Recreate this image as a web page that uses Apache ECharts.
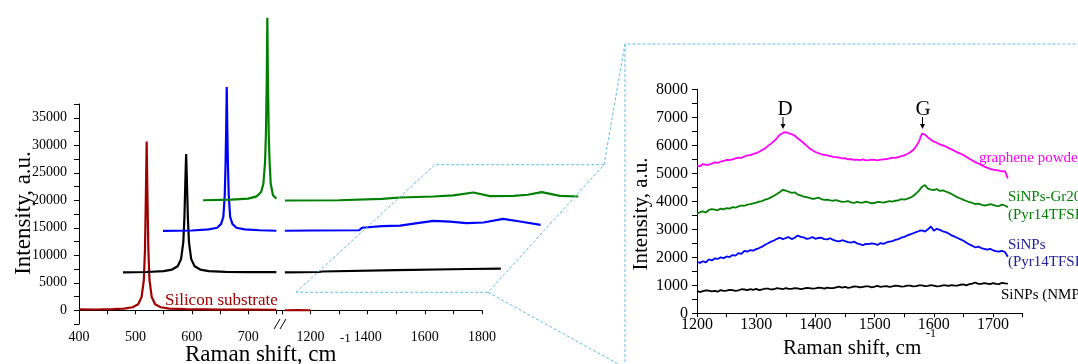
<!DOCTYPE html>
<html>
<head>
<meta charset="utf-8">
<script src="https://cdn.jsdelivr.net/npm/echarts@6.0.0/dist/echarts.min.js"></script>
<style>
html, body { margin: 0; padding: 0; background: #fff; }
#main { width: 1078px; height: 364px; }
</style>
</head>
<body>
<div id="main"></div>
<script>
// left plot: stacked spectra, axis broken between ~750 and 1100
var siliconLeft = [[400,150],[430,140],[460,200],[480,300],[495,550],[505,1100],[511,2400],[515,5500],[517,11000],[518.5,20000],[520,30700],[521.5,20000],[523,11000],[525,5500],[529,2400],[535,1100],[545,550],[560,300],[590,200],[650,120],[700,100],[750,90]];
var siliconRight = [[1110,0],[1150,20],[1200,0]];

var nmpLeft = [[478,6900],[520,6950],[550,7100],[565,7400],[575,8000],[581,9300],[585,12400],[587,17000],[588.5,23000],[590,28400],[591.5,23000],[593,17000],[595,12400],[599,9300],[605,8000],[615,7400],[630,7100],[660,6980],[700,6930],[750,6920]];
var nmpRight = [[1110,6900],[1230,6950],[1240,7050],[1500,7300],[1750,7500],[1866,7570]];

var pyrLeft = [[549,14430],[600,14500],[630,14700],[645,15000],[652,15700],[656,17000],[658.5,21000],[660,27000],[661,33000],[662,40600],[663,33000],[664,27000],[665.5,21000],[668,17000],[672,15700],[679,15000],[694,14700],[720,14550],[750,14450]];
var pyrRight = [[1110,14450],[1200,14500],[1370,14550],[1380,15000],[1450,15300],[1513,15400],[1580,15900],[1630,16250],[1688,16130],[1746,15840],[1805,15950],[1874,16600],[1933,16130],[2005,15530]];

var grLeft = [[620,20000],[670,20100],[700,20300],[715,20700],[723,21500],[727,23000],[730,27000],[731.5,32000],[733,42000],[734,53200],[735,42000],[736.5,32000],[738,27000],[740,23000],[744,20900],[750,20300]];
var grRight = [[1110,19950],[1300,20000],[1450,20250],[1513,20500],[1630,20680],[1700,20900],[1770,21410],[1828,20750],[1910,20800],[1960,21000],[2009,21480],[2073,20800],[2137,20680]];

// inset: 1200-1725 cm-1, every 5
var insetShift = [];
for (var s = 1200; s <= 1725; s += 5) insetShift.push(s);

var graphene = [5270,5250,5330,5300,5310,5350,5390,5370,5420,5440,
    5480,5470,5500,5530,5560,5550,5600,5640,5650,5690,
    5720,5770,5830,5890,5980,6060,6150,6260,6380,6440,
    6470,6430,6400,6340,6250,6170,6080,5990,5890,5820,
    5760,5720,5680,5660,5640,5610,5590,5580,5560,5530,
    5540,5500,5510,5480,5490,5470,5500,5460,5470,5490,
    5480,5460,5490,5500,5510,5530,5560,5550,5580,5610,
    5640,5690,5750,5830,5960,6150,6420,6380,6280,6200,
    6130,6090,6030,6000,5960,5900,5850,5800,5740,5700,
    5650,5580,5520,5460,5400,5350,5300,5240,5200,5160,
    5130,5110,5100,5070,5080,4820];
var siGr20 = [3560,3610,3640,3600,3690,3720,3700,3680,3740,3710,
    3760,3740,3790,3770,3820,3850,3840,3880,3900,3930,
    3950,3990,4010,4060,4090,4140,4200,4260,4330,4410,
    4380,4340,4300,4320,4240,4210,4170,4150,4120,4090,
    4100,4130,4080,4050,4060,4030,4020,4040,4010,3980,
    3990,4010,3960,3940,3980,3950,3950,3990,3960,3930,
    3940,3980,3970,3950,3980,4010,3990,4020,4030,4080,
    4060,4090,4130,4190,4280,4380,4520,4580,4450,4420,
    4400,4440,4370,4390,4350,4310,4260,4200,4140,4100,
    4050,4010,3970,3940,3900,3920,3880,3850,3860,3900,
    3870,3840,3830,3880,3850,3790];
var siPyr = [1840,1800,1860,1820,1930,1890,1960,1940,2000,1970,
    2030,2010,2080,2060,2150,2120,2230,2200,2260,2240,
    2290,2330,2380,2450,2500,2560,2600,2660,2700,2650,
    2690,2720,2650,2700,2780,2730,2710,2660,2680,2720,
    2660,2690,2700,2650,2640,2680,2620,2590,2570,2610,
    2580,2540,2520,2560,2500,2470,2430,2480,2470,2500,
    2480,2440,2510,2480,2530,2560,2580,2620,2650,2700,
    2730,2780,2820,2860,2900,2940,2960,2920,3000,3100,
    2950,3020,2980,2930,2900,2850,2780,2740,2690,2640,
    2590,2520,2460,2410,2350,2380,2330,2300,2270,2300,
    2250,2220,2200,2230,2190,2020];
var siNmp = [800,760,790,820,810,780,800,770,830,800,
    810,840,830,800,820,860,850,830,860,840,
    870,830,850,880,880,850,860,900,880,860,
    900,870,870,900,890,860,880,910,900,880,
    890,920,910,880,920,900,900,930,950,920,
    940,910,930,960,950,930,940,960,960,930,
    950,980,940,960,970,940,960,990,980,950,
    960,990,990,960,970,1000,1000,970,980,1010,
    990,960,970,1000,1000,980,1010,990,990,1020,
    1030,1000,1040,1060,1100,1050,1050,1080,1060,1040,
    1080,1050,1040,1090,1070,1060];

var serif = 'Liberation Serif';
var dash = '#5DBCE9';

function pairs(ys) {
    return insetShift.map(function (x, i) { return [x, ys[i]]; });
}

function spec(data, color, idx, width) {
    return {
        type: 'line', xAxisIndex: idx, yAxisIndex: idx, data: data,
        symbol: 'none', clip: false, silent: true,
        lineStyle: {color: color, width: width}
    };
}

function xAx(grid, min, max, interval, show) {
    return {
        type: 'value', gridIndex: grid, min: min, max: max, interval: interval,
        axisLine: {lineStyle: {color: '#000', width: 1}},
        axisTick: {length: 4, lineStyle: {color: '#000'}},
        splitLine: {show: false},
        axisLabel: {
            fontFamily: serif, fontSize: grid === 2 ? 16 : 14, color: '#000', margin: grid === 2 ? 3 : 6,
            formatter: function (v) { return show.indexOf(v) >= 0 ? String(v) : ''; }
        }
    };
}

var chart = echarts.init(document.getElementById('main'));

var option = {
    animation: false,
    backgroundColor: '#fff',
    grid: [
        {left: 79, top: 104, width: 203, height: 220},
        {left: 282, top: 104, width: 200, height: 220},
        {left: 697, top: 89.3, width: 325.7, height: 224},
        // same scale as grid 1, wider so the shifted traces can run past 1800
        {left: 282, top: 104, width: 300, height: 220}
    ],
    xAxis: [
        xAx(0, 400, 760, 50, [400, 500, 600, 700]),
        xAx(1, 1100, 1800, 100, [1200, 1400, 1600, 1800]),
        xAx(2, 1200, 1750, 50, [1200, 1300, 1400, 1500, 1600, 1700]),
        {type: 'value', gridIndex: 3, min: 1100, max: 2150, show: false}
    ],
    yAxis: [
        {
            type: 'value', gridIndex: 0, min: -2500, max: 37500, interval: 2500,
            axisLine: {show: true, lineStyle: {color: '#000'}},
            axisTick: {show: true, length: 5, lineStyle: {color: '#000'}},
            splitLine: {show: false},
            axisLabel: {
                fontFamily: serif, fontSize: 14, color: '#000', margin: 12,
                formatter: function (v) { return (v >= 0 && v % 5000 === 0) ? String(v) : ''; }
            }
        },
        {type: 'value', gridIndex: 1, min: -2500, max: 37500, show: false},
        {
            type: 'value', gridIndex: 2, min: 0, max: 8000, interval: 500,
            axisLine: {show: true, lineStyle: {color: '#000'}},
            axisTick: {show: true, length: 5, lineStyle: {color: '#000'}},
            splitLine: {show: false},
            axisLabel: {
                fontFamily: serif, fontSize: 16, color: '#000', margin: 9,
                formatter: function (v) { return v % 1000 === 0 ? String(v) : ''; }
            }
        },
        {type: 'value', gridIndex: 3, min: -2500, max: 37500, show: false}
    ],
    series: [
        spec(siliconLeft, '#A00000', 0, 2.2),
        spec(siliconRight, '#A00000', 3, 2.2),
        spec(nmpLeft, '#000', 0, 2.2),
        spec(nmpRight, '#000', 3, 2.2),
        spec(pyrLeft, '#0000FF', 0, 2.2),
        spec(pyrRight, '#0000FF', 3, 2.2),
        spec(grLeft, '#008000', 0, 2.2),
        spec(grRight, '#008000', 3, 2.2),
        spec(pairs(graphene), '#FF00FF', 2, 1.8),
        spec(pairs(siGr20), '#007F00', 2, 1.8),
        spec(pairs(siPyr), '#0000FF', 2, 1.8),
        spec(pairs(siNmp), '#000', 2, 1.8)
    ],
    graphic: [
        // axis break
        {type: 'rect', shape: {x: 277, y: 319, width: 11, height: 13}, style: {fill: '#fff'}, z: 50},
        {type: 'line', shape: {x1: 274, y1: 329, x2: 280, y2: 319}, style: {stroke: '#000', lineWidth: 1}, z: 51},
        {type: 'line', shape: {x1: 280, y1: 329, x2: 286, y2: 319}, style: {stroke: '#000', lineWidth: 1}, z: 51},
        // zoom outline
        {type: 'polygon', shape: {points: [[296, 292.3], [435, 164.7], [604, 164.7], [488, 292.3]]},
            style: {fill: null, stroke: dash, lineWidth: 1, lineDash: [3, 2]}, z: 60},
        {type: 'polyline', shape: {points: [[604, 164.7], [625, 44], [1078, 44]]},
            style: {fill: null, stroke: dash, lineWidth: 1, lineDash: [3, 2]}, z: 60},
        {type: 'line', shape: {x1: 625, y1: 44, x2: 625, y2: 364},
            style: {stroke: dash, lineWidth: 1, lineDash: [3, 2]}, z: 60},
        {type: 'line', shape: {x1: 488, y1: 292.3, x2: 640, y2: 376},
            style: {stroke: dash, lineWidth: 1, lineDash: [3, 2]}, z: 60},
        // left titles
        {type: 'text', x: 185, y: 355, style: {text: 'Raman shift, cm', font: '23px "Liberation Serif"', fill: '#000', textVerticalAlign: 'middle'}},
        {type: 'text', x: 340, y: 339, style: {text: '-1', font: '13px "Liberation Serif"', fill: '#000', textVerticalAlign: 'middle'}},
        {type: 'text', x: 24, y: 213, rotation: Math.PI / 2, style: {text: 'Intensity, a.u.', font: '23px "Liberation Serif"', fill: '#000', textAlign: 'center', textVerticalAlign: 'middle'}},
        {type: 'text', x: 165, y: 301, style: {text: 'Silicon substrate', font: '17px "Liberation Serif"', fill: '#A00000', textVerticalAlign: 'middle'}},
        // inset titles
        {type: 'text', x: 783, y: 348, style: {text: 'Raman shift, cm', font: '21px "Liberation Serif"', fill: '#000', textVerticalAlign: 'middle'}},
        {type: 'text', x: 926, y: 334, style: {text: '-1', font: '12px "Liberation Serif"', fill: '#000', textVerticalAlign: 'middle'}},
        {type: 'text', x: 641, y: 214, rotation: Math.PI / 2, style: {text: 'Intensity, a.u.', font: '21px "Liberation Serif"', fill: '#000', textAlign: 'center', textVerticalAlign: 'middle'}},
        // D / G markers
        {type: 'text', x: 785, y: 109, style: {text: 'D', font: '21px "Liberation Serif"', fill: '#000', textAlign: 'center', textVerticalAlign: 'middle'}},
        {type: 'text', x: 923, y: 109, style: {text: 'G', font: '21px "Liberation Serif"', fill: '#000', textAlign: 'center', textVerticalAlign: 'middle'}},
        {type: 'line', shape: {x1: 783, y1: 117, x2: 783, y2: 125}, style: {stroke: '#000', lineWidth: 1}},
        {type: 'polygon', shape: {points: [[780.5, 124], [785.5, 124], [783, 129]]}, style: {fill: '#000'}},
        {type: 'line', shape: {x1: 922.5, y1: 117, x2: 922.5, y2: 125}, style: {stroke: '#000', lineWidth: 1}},
        {type: 'polygon', shape: {points: [[920, 124], [925, 124], [922.5, 129]]}, style: {fill: '#000'}},
        // inset labels
        {type: 'text', x: 979, y: 158, style: {text: 'graphene powder', font: '15px "Liberation Serif"', fill: '#FF00FF', textVerticalAlign: 'middle'}},
        {type: 'text', x: 1008, y: 197, style: {text: 'SiNPs-Gr20', font: '15px "Liberation Serif"', fill: '#007F00', textVerticalAlign: 'middle'}},
        {type: 'text', x: 1008, y: 215, style: {text: '(Pyr14TFSI)', font: '15px "Liberation Serif"', fill: '#007F00', textVerticalAlign: 'middle'}},
        {type: 'text', x: 1008, y: 245, style: {text: 'SiNPs', font: '15px "Liberation Serif"', fill: '#20209A', textVerticalAlign: 'middle'}},
        {type: 'text', x: 1008, y: 262, style: {text: '(Pyr14TFSI)', font: '15px "Liberation Serif"', fill: '#20209A', textVerticalAlign: 'middle'}},
        {type: 'text', x: 1001, y: 295, style: {text: 'SiNPs (NMP)', font: '15px "Liberation Serif"', fill: '#000', textVerticalAlign: 'middle'}}
    ]
};

chart.setOption(option);
</script>
</body>
</html>
